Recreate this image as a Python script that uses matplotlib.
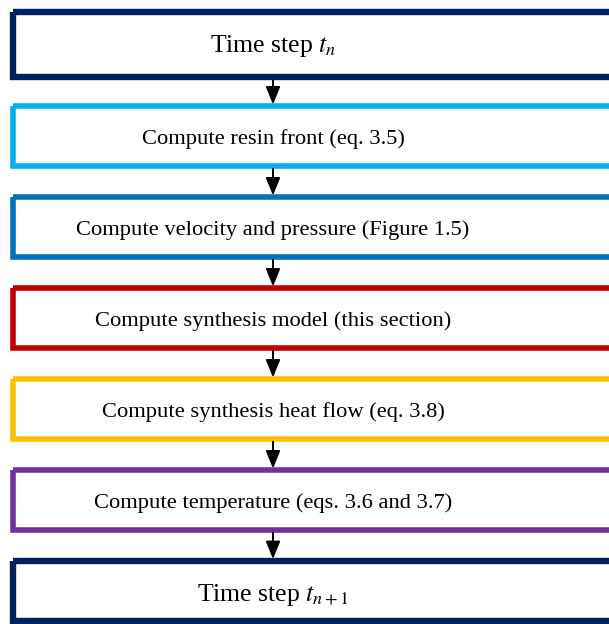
import matplotlib.pyplot as plt
from matplotlib.patches import Rectangle

plt.rcParams['font.family'] = ['Liberation Serif', 'DejaVu Serif']
plt.rcParams['mathtext.fontset'] = 'stix'

# pasos del diagrama
etiquetas = [
    'Time step $t_n$',
    'Compute resin front (eq. 3.5)',
    'Compute velocity and pressure (Figure 1.5)',
    'Compute synthesis model (this section)',
    'Compute synthesis heat flow (eq. 3.8)',
    'Compute temperature (eqs. 3.6 and 3.7)',
    'Time step $t_{n+1}$',
]
colores = ['#002060', '#00B0F0', '#0070C0', '#C00000', '#FFC000', '#7030A0', '#002060']

W, H = 609, 624
fig = plt.figure(figsize=(W / 100, H / 100), dpi=100)
ax = fig.add_axes([0, 0, 1, 1])
ax.set_xlim(0, W)
ax.set_ylim(H, 0)
ax.axis('off')

x0 = 13          # borde izquierdo
ancho = 640      # se sale por la derecha, igual que el original
paso = 91
alto = 60
xc = 273         # columna de flechas / texto

cajas = []
for i, (txt, col) in enumerate(zip(etiquetas, colores)):
    extremo = i == 0 or i == len(etiquetas) - 1
    if i == 0:
        top, h = 11.5, 65
    else:
        top, h = 14.5 + i * paso, alto
    lw = 4.6 if extremo else 4.0
    ax.add_patch(Rectangle((x0, top), ancho, h, fill=False, ec=col, lw=lw,
                           joinstyle='miter'))
    dy = 2 if i == 0 else 4
    ax.text(xc, top + h / 2 + dy, txt, ha='center', va='center',
            fontsize=18.5 if extremo else 16.2, color='black')
    cajas.append((top, top + h, lw))

#flechas entre cajas
for (t0, b0, lw0), (t1, b1, lw1) in zip(cajas[:-1], cajas[1:]):
    y_ini = b0 + lw0 * 0.7
    y_fin = t1 - lw1 * 0.7
    ax.arrow(xc, y_ini, 0, y_fin - y_ini, head_width=13, head_length=16,
             length_includes_head=True, fc='black', ec='black', lw=1)

fig.savefig('out.png', dpi=100)
